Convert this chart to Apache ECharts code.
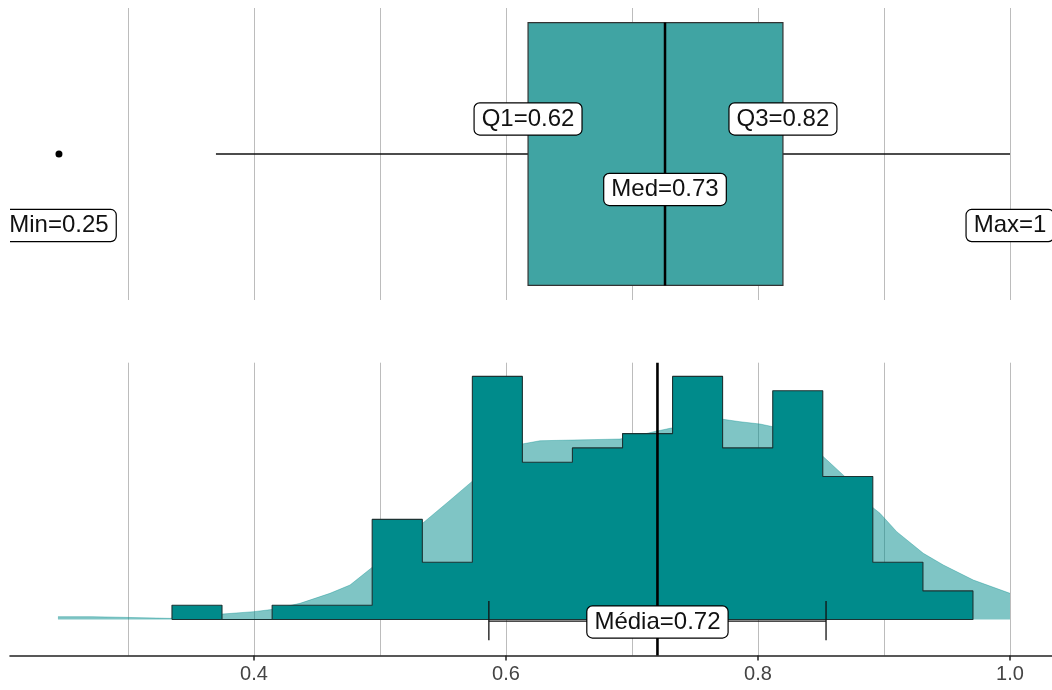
<!DOCTYPE html>
<html>
<head>
<meta charset="utf-8">
<script src="https://cdn.jsdelivr.net/npm/echarts@6/dist/echarts.min.js"></script>
<style>
html,body{margin:0;padding:0;background:#fff;}
#chart{width:1052px;height:690px;}
</style>
</head>
<body>
<div id="chart"></div>
<script>
// ---------- data ----------
const tickValues = [0.4, 0.6, 0.8, 1.0];
const gridValues = [0.3, 0.4, 0.5, 0.6, 0.7, 0.8, 0.9, 1.0];

// box plot: lower whisker, Q1, median, Q3, upper whisker
const boxStats = [0.3698, 0.6175, 0.7262, 0.8198, 1.0];
const outliers = [0.2452];
const minVal = 0.2452;
const maxVal = 1.0;

// histogram
const binEdges = [0.3349, 0.3746, 0.4144, 0.4541, 0.4938, 0.5336, 0.5733, 0.6130, 0.6527,
                  0.6925, 0.7322, 0.7719, 0.8117, 0.8514, 0.8911, 0.9309, 0.9706];
const counts   = [1, 0, 1, 1, 7, 4, 17, 11, 12, 13, 17, 12, 16, 10, 4, 2];

// density (scaled to counts)
const densX = [0.2444,0.2714,0.2722,0.3333,0.3746,0.4000,0.4151,0.4365,0.4603,0.4762,0.4944,0.5143,
               0.5341,0.5540,0.5738,0.5929,0.6127,0.6270,0.6532,0.6746,0.6905,0.7063,0.7183,0.7302,
               0.7540,0.7722,0.7857,0.8016,0.8119,0.8317,0.8413,0.8513,0.8690,0.8903,0.8968,0.9101,
               0.9312,0.9471,0.9709,1.0000];
const densY = [0.20,0.20,0.08,0.08,0.38,0.55,0.71,1.13,1.83,2.41,3.69,5.21,
               6.75,8.22,9.71,11.01,12.27,12.50,12.55,12.59,12.62,12.90,13.15,13.37,
               13.74,14.00,13.83,13.67,13.48,12.55,12.06,11.43,9.99,7.89,7.43,6.14,
               4.63,3.81,2.76,1.83];

const meanVal = 0.7202;
const sdVal = 0.1338;

// ---------- derived ----------
const fmt = v => String(Number(v.toFixed(2)));
const histPts = [[binEdges[0], 0]];
counts.forEach((c, i) => { histPts.push([binEdges[i], c]); histPts.push([binEdges[i + 1], c]); });
histPts.push([binEdges[binEdges.length - 1], 0]);
histPts.push([binEdges[0], 0]);
const densPts = densX.map((x, i) => [x, densY[i]]);

const FONT = '"Liberation Sans", Arial, sans-serif';
const XMIN = 0.206349, XMAX = 1.033333;

function gridRender(params, api) {
  const cs = params.coordSys;
  const x = Math.round(api.coord([api.value(0), 0])[0]) + 0.5;
  return { type: 'line', shape: { x1: x, y1: cs.y, x2: x, y2: cs.y + cs.height },
           style: { stroke: '#bcbcbc', lineWidth: 1 } };
}

function labelRender(params, api) {
  const p = api.coord([api.value(0), api.value(1)]);
  return {
    type: 'text', x: p[0], y: p[1],
    style: {
      text: api.value(2), fontSize: 24, fontFamily: FONT, fill: '#111',
      align: 'center', verticalAlign: 'middle',
      backgroundColor: '#fff', borderColor: '#000', borderWidth: 1.2, borderRadius: 5,
      padding: [4, 7, 3, 7]
    }
  };
}

const option = {
  animation: false,
  backgroundColor: '#fff',
  grid: [
    { left: 10, right: 0, top: 8, height: 292 },
    { left: 10, right: 0, top: 362.7, height: 292.8 }
  ],
  xAxis: [
    { type: 'value', gridIndex: 0, min: XMIN, max: XMAX, show: false, splitLine: { show: false } },
    { type: 'value', gridIndex: 1, min: XMIN, max: XMAX, splitLine: { show: false },
      axisLine: { show: true, onZero: false, lineStyle: { color: '#222', width: 1.6 } },
      axisTick: { show: true, customValues: tickValues, length: 5, lineStyle: { color: '#222', width: 1.5 } },
      axisLabel: { customValues: tickValues, formatter: v => v.toFixed(1), fontSize: 20,
                   fontFamily: FONT, color: '#444', margin: 9 } }
  ],
  yAxis: [
    { type: 'value', gridIndex: 0, min: -1, max: 1, show: false, splitLine: { show: false } },
    { type: 'value', gridIndex: 1, min: -2.517, max: 17.958, show: false, splitLine: { show: false } }
  ],
  series: [
    // gridlines
    { type: 'custom', xAxisIndex: 0, yAxisIndex: 0, z: 0, silent: true,
      data: gridValues.map(v => [v]), renderItem: gridRender },
    { type: 'custom', xAxisIndex: 1, yAxisIndex: 1, z: 0, silent: true,
      data: gridValues.map(v => [v]), renderItem: gridRender },
    // box plot
    { type: 'custom', xAxisIndex: 0, yAxisIndex: 0, z: 2, silent: true,
      data: [boxStats],
      renderItem: function (params, api) {
        const yc = api.coord([0, 0])[1];
        const half = api.size([0, 0.9])[1];
        const px = i => api.coord([api.value(i), 0])[0];
        const lo = px(0), q1 = px(1), md = px(2), q3 = px(3), hi = px(4);
        return { type: 'group', children: [
          { type: 'line', shape: { x1: lo, y1: yc, x2: q1, y2: yc }, style: { stroke: '#111', lineWidth: 1.3 } },
          { type: 'line', shape: { x1: q3, y1: yc, x2: hi, y2: yc }, style: { stroke: '#111', lineWidth: 1.3 } },
          { type: 'rect', shape: { x: q1, y: yc - half, width: q3 - q1, height: 2 * half },
            style: { fill: '#40a4a3', stroke: '#333', lineWidth: 1.2 } },
          { type: 'line', shape: { x1: md, y1: yc - half, x2: md, y2: yc + half }, style: { stroke: '#000', lineWidth: 2.5 } }
        ] };
      } },
    { type: 'scatter', xAxisIndex: 0, yAxisIndex: 0, z: 3, symbolSize: 7, silent: true,
      itemStyle: { color: '#000', opacity: 1 }, data: outliers.map(v => [v, 0]) },
    // box labels
    { type: 'custom', xAxisIndex: 0, yAxisIndex: 0, z: 5, clip: true, silent: true,
      data: [
        [boxStats[1], 0.24, 'Q1=' + fmt(boxStats[1])],
        [boxStats[3], 0.24, 'Q3=' + fmt(boxStats[3])],
        [boxStats[2], -0.243, 'Med=' + fmt(boxStats[2])],
        [minVal, -0.49, 'Min=' + fmt(minVal)],
        [maxVal, -0.49, 'Max=' + fmt(maxVal)]
      ],
      dimensions: ['x', 'y', { name: 't', type: 'ordinal' }],
      renderItem: labelRender },
    // density
    { type: 'line', xAxisIndex: 1, yAxisIndex: 1, z: 1, symbol: 'none', silent: true,
      data: densPts, lineStyle: { width: 0.6, color: 'rgba(0,139,139,0.6)' },
      areaStyle: { color: 'rgba(0,139,139,0.5)', opacity: 1 } },
    // histogram
    { type: 'line', xAxisIndex: 1, yAxisIndex: 1, z: 2, symbol: 'none', silent: true,
      data: histPts, lineStyle: { width: 1.1, color: '#1c3333' },
      areaStyle: { color: '#008b8b', opacity: 1 } },
    // mean line + error bar
    { type: 'custom', xAxisIndex: 1, yAxisIndex: 1, z: 4, silent: true,
      data: [[meanVal, sdVal]],
      renderItem: function (params, api) {
        const cs = params.coordSys;
        const m = api.value(0), s = api.value(1);
        const xm = api.coord([m, 0])[0];
        const a = api.coord([m - s, -0.12]), b = api.coord([m + s, -0.12]);
        const capT = api.coord([m, 1.3])[1], capB = api.coord([m, -1.45])[1];
        return { type: 'group', children: [
          { type: 'line', shape: { x1: xm, y1: cs.y, x2: xm, y2: cs.y + cs.height }, style: { stroke: '#000', lineWidth: 2.6 } },
          { type: 'line', shape: { x1: a[0], y1: a[1], x2: b[0], y2: b[1] }, style: { stroke: '#111', lineWidth: 1.3 } },
          { type: 'line', shape: { x1: a[0], y1: capT, x2: a[0], y2: capB }, style: { stroke: '#111', lineWidth: 1.3 } },
          { type: 'line', shape: { x1: b[0], y1: capT, x2: b[0], y2: capB }, style: { stroke: '#111', lineWidth: 1.3 } }
        ] };
      } },
    { type: 'custom', xAxisIndex: 1, yAxisIndex: 1, z: 6, clip: true, silent: true,
      data: [[meanVal, -0.17, 'Média=' + fmt(meanVal)]],
      dimensions: ['x', 'y', { name: 't', type: 'ordinal' }],
      renderItem: labelRender }
  ]
};

const chart = echarts.init(document.getElementById('chart'), null, { renderer: 'canvas' });
chart.setOption(option);
</script>
</body>
</html>
